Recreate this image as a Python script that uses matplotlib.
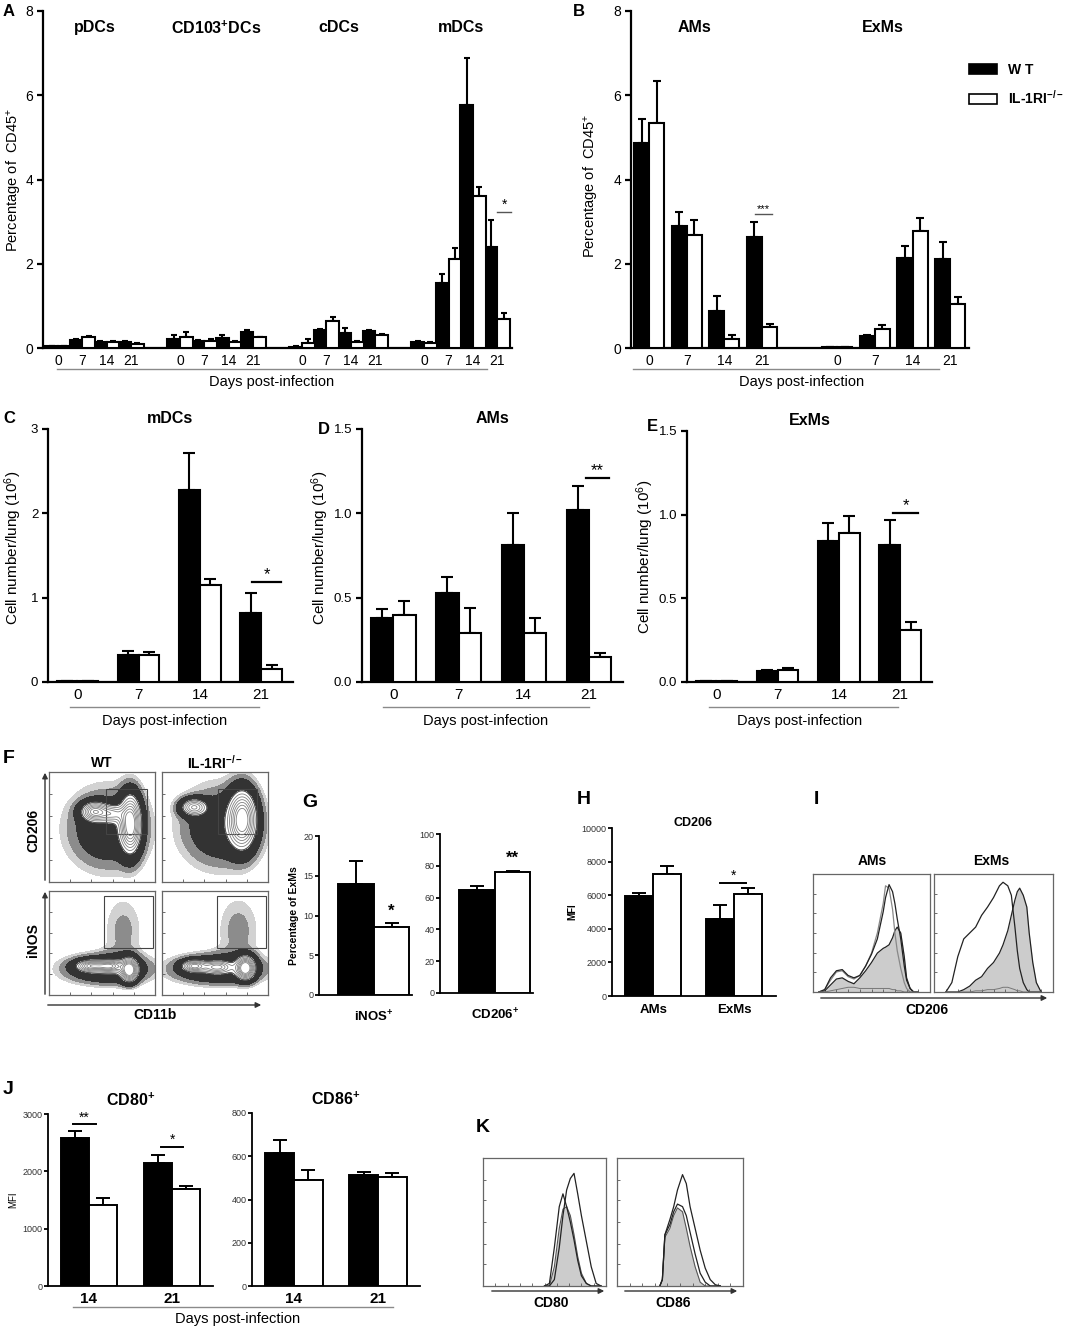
import matplotlib.pyplot as plt
import matplotlib.patches as mpatches
from matplotlib.lines import Line2D
import numpy as np

plt.rcParams['font.family'] = ['Liberation Sans', 'DejaVu Sans']
plt.rcParams['mathtext.fontset'] = 'custom'
plt.rcParams['mathtext.rm'] = 'Liberation Sans'
plt.rcParams['mathtext.bf'] = 'Liberation Sans:bold'
plt.rcParams['mathtext.it'] = 'Liberation Sans:italic'

# ---------------- data ----------------
days = ['0', '7', '14', '21']

# A: percentage of CD45+ (DC subsets), 4 groups x 4 days
a_groups = ['pDCs', 'CD103$^{\\mathbf{+}}$DCs', 'cDCs', 'mDCs']
a_wt = [0.04, 0.19, 0.15, 0.14, 0.22, 0.17, 0.24, 0.39,
        0.03, 0.42, 0.35, 0.40, 0.15, 1.55, 5.78, 2.39]
a_wt_err = [0.01, 0.03, 0.02, 0.02, 0.10, 0.02, 0.08, 0.04,
            0.01, 0.03, 0.12, 0.03, 0.02, 0.21, 1.10, 0.64]
a_ko = [0.04, 0.25, 0.15, 0.10, 0.25, 0.17, 0.15, 0.25,
        0.12, 0.65, 0.15, 0.30, 0.13, 2.12, 3.61, 0.70]
a_ko_err = [0.01, 0.04, 0.02, 0.02, 0.12, 0.05, 0.02, 0.02,
            0.10, 0.08, 0.02, 0.03, 0.02, 0.26, 0.21, 0.14]

# B: percentage of CD45+ (macrophages)
b_groups = ['AMs', 'ExMs']
b_wt = [4.87, 2.90, 0.88, 2.63, 0.02, 0.28, 2.13, 2.11]
b_wt_err = [0.57, 0.33, 0.35, 0.37, 0.01, 0.03, 0.30, 0.40]
b_ko = [5.35, 2.68, 0.22, 0.50, 0.02, 0.44, 2.78, 1.05]
b_ko_err = [1.00, 0.35, 0.08, 0.08, 0.01, 0.10, 0.31, 0.16]

# C-E: cell number / lung (10^6)
c_wt = [0.01, 0.32, 2.28, 0.82]
c_wt_err = [0.0, 0.05, 0.43, 0.24]
c_ko = [0.01, 0.32, 1.15, 0.16]
c_ko_err = [0.0, 0.04, 0.07, 0.04]

d_wt = [0.38, 0.53, 0.81, 1.02]
d_wt_err = [0.05, 0.09, 0.19, 0.14]
d_ko = [0.40, 0.29, 0.29, 0.15]
d_ko_err = [0.08, 0.15, 0.09, 0.02]

e_wt = [0.005, 0.066, 0.84, 0.82]
e_wt_err = [0.0, 0.004, 0.11, 0.15]
e_ko = [0.005, 0.074, 0.89, 0.31]
e_ko_err = [0.0, 0.012, 0.10, 0.05]

# G: percentage of ExMs
g_labels = ['iNOS$^{\\mathbf{+}}$', 'CD206$^{\\mathbf{+}}$']
g_wt = [13.9, 64.5]
g_wt_err = [3.0, 2.5]
g_ko = [8.6, 75.8]
g_ko_err = [0.4, 1.2]

# H: CD206 MFI
h_cats = ['AMs', 'ExMs']
h_wt = [5980, 4610]
h_wt_err = [140, 800]
h_ko = [7250, 6100]
h_ko_err = [500, 300]

# J: MFI of CD80+ / CD86+ at day 14 and 21
j_days = ['14', '21']
j80_wt = [2590, 2150]
j80_wt_err = [120, 130]
j80_ko = [1415, 1700]
j80_ko_err = [120, 45]
j86_wt = [615, 514]
j86_wt_err = [60, 12]
j86_ko = [489, 502]
j86_ko_err = [48, 20]

# significance marks: (x0, x1, y, text)
sig_a = [(18.0, 18.55, 3.23, '*')]
sig_b = [(2.82, 3.27, 3.19, '***')]
sig_c = [(2.85, 3.33, 1.18, '*')]
sig_d = [(2.95, 3.30, 1.21, '**')]
sig_e = [(2.89, 3.29, 1.01, '*')]
sig_h = [(0.83, 1.15, 6720, '*')]
sig_j80 = [(-0.19, 0.08, 2819, '**'), (0.87, 1.13, 2429, '*')]

# F: flow density blobs (cx, cy, sx, sy, weight) in box units
f_blobs = {
    'wt_cd206': [(0.55, 0.48, 0.25, 0.24, 0.25), (0.43, 0.64, 0.08, 0.055, 0.8),
                 (0.77, 0.53, 0.065, 0.17, 1.0), (0.60, 0.62, 0.07, 0.05, 0.45)],
    'ko_cd206': [(0.55, 0.50, 0.25, 0.24, 0.25), (0.30, 0.68, 0.08, 0.05, 0.7),
                 (0.76, 0.57, 0.085, 0.17, 1.0)],
    'wt_inos': [(0.55, 0.25, 0.26, 0.09, 0.35), (0.70, 0.62, 0.13, 0.24, 0.095),
                (0.40, 0.28, 0.09, 0.035, 0.7), (0.76, 0.24, 0.05, 0.07, 1.0),
                (0.58, 0.28, 0.07, 0.035, 0.6)],
    'ko_inos': [(0.52, 0.25, 0.28, 0.09, 0.35), (0.72, 0.62, 0.14, 0.24, 0.10),
                (0.30, 0.28, 0.07, 0.035, 0.7), (0.79, 0.26, 0.055, 0.07, 1.0),
                (0.52, 0.27, 0.08, 0.035, 0.5)],
}
f_gates = {'wt_cd206': (0.54, 0.44, 0.92, 0.85), 'ko_cd206': (0.53, 0.44, 0.90, 0.85),
           'wt_inos': (0.52, 0.45, 0.98, 0.95), 'ko_inos': (0.52, 0.45, 0.98, 0.95)}

# I / K: histogram outlines (box units)
i_am_x = [0.05, 0.10, 0.15, 0.20, 0.25, 0.30, 0.35, 0.40, 0.45, 0.50, 0.55, 0.60,
          0.62, 0.65, 0.68, 0.70, 0.72, 0.75, 0.78, 0.80, 0.83, 0.86, 0.90]
i_am_fill = [0, 0.01, 0.06, 0.11, 0.12, 0.09, 0.07, 0.12, 0.18, 0.25, 0.33, 0.37,
             0.38, 0.40, 0.46, 0.52, 0.55, 0.50, 0.30, 0.12, 0.03, 0, 0]
i_am_wt = [0, 0.02, 0.12, 0.18, 0.19, 0.14, 0.12, 0.14, 0.22, 0.32, 0.45, 0.68,
           0.80, 0.91, 0.85, 0.75, 0.62, 0.45, 0.22, 0.10, 0.03, 0, 0]
i_am_ko = [0, 0.02, 0.10, 0.17, 0.18, 0.13, 0.11, 0.14, 0.22, 0.33, 0.50, 0.75,
           0.90, 0.88, 0.70, 0.50, 0.35, 0.20, 0.08, 0.03, 0, 0, 0]
i_am_iso = [0, 0, 0.01, 0.02, 0.03, 0.04, 0.04, 0.03, 0.03, 0.03, 0.03, 0.03,
            0.03, 0.03, 0.02, 0.02, 0.01, 0.01, 0, 0, 0, 0, 0]

i_ex_x = [0.10, 0.15, 0.20, 0.25, 0.30, 0.35, 0.40, 0.45, 0.50, 0.55, 0.58, 0.62,
          0.65, 0.68, 0.70, 0.72, 0.75, 0.78, 0.80, 0.83, 0.86, 0.90]
i_ex_fill = [0, 0, 0, 0.02, 0.05, 0.10, 0.13, 0.20, 0.25, 0.33, 0.40, 0.52,
             0.65, 0.78, 0.85, 0.88, 0.82, 0.72, 0.50, 0.25, 0.08, 0]
i_ex_line = [0, 0.08, 0.30, 0.45, 0.50, 0.55, 0.65, 0.72, 0.80, 0.90, 0.93, 0.90,
             0.82, 0.55, 0.35, 0.20, 0.08, 0.02, 0, 0, 0, 0]
i_ex_iso = [0, 0, 0, 0, 0, 0.01, 0.01, 0.02, 0.02, 0.03, 0.04, 0.04,
            0.03, 0.02, 0.01, 0.01, 0, 0, 0, 0, 0, 0]

k80_x = [0.50, 0.54, 0.58, 0.62, 0.65, 0.68, 0.71, 0.74, 0.77, 0.80, 0.84, 0.88, 0.92, 0.96]
k80_fill = [0, 0, 0.15, 0.45, 0.60, 0.62, 0.55, 0.40, 0.23, 0.10, 0.02, 0, 0, 0]
k80_a = [0, 0.02, 0.30, 0.62, 0.72, 0.62, 0.50, 0.36, 0.20, 0.08, 0.02, 0, 0, 0]
k80_b = [0, 0, 0.05, 0.30, 0.55, 0.75, 0.84, 0.88, 0.72, 0.55, 0.35, 0.15, 0.02, 0]

k86_x = [0.34, 0.36, 0.38, 0.42, 0.45, 0.48, 0.52, 0.55, 0.58, 0.62, 0.66, 0.70, 0.74, 0.78, 0.82]
k86_fill = [0, 0.05, 0.38, 0.45, 0.55, 0.61, 0.58, 0.45, 0.31, 0.15, 0.03, 0, 0, 0, 0]
k86_a = [0, 0.05, 0.40, 0.48, 0.58, 0.64, 0.62, 0.55, 0.42, 0.25, 0.10, 0.03, 0, 0, 0]
k86_b = [0, 0.05, 0.40, 0.52, 0.62, 0.75, 0.87, 0.80, 0.62, 0.45, 0.28, 0.14, 0.05, 0.01, 0]

# ---------------- figure ----------------
W, H = 1077, 1331
fig = plt.figure(figsize=(W / 100, H / 100), dpi=100)


def box(x0, y0, x1, y1):
    return fig.add_axes([x0 / W, 1 - y1 / H, (x1 - x0) / W, (y1 - y0) / H])


def ftext(x, y, s, **kw):
    kw.setdefault('ha', 'center')
    kw.setdefault('va', 'center')
    fig.text(x / W, 1 - y / H, s, **kw)


def fline(x0, x1, y, color='#8a8a8a', lw=1.0):
    fig.add_artist(Line2D([x0 / W, x1 / W], [1 - y / H, 1 - y / H],
                          transform=fig.transFigure, color=color, lw=lw))


def farrow(x0, y0, x1, y1):
    fig.add_artist(mpatches.FancyArrowPatch((x0 / W, 1 - y0 / H), (x1 / W, 1 - y1 / H),
                                            transform=fig.transFigure, arrowstyle='-|>',
                                            mutation_scale=8, lw=1.0, color='#333333'))


def style(ax, small=False):
    for s in ['top', 'right']:
        ax.spines[s].set_visible(False)
    lw = 1.3 if small else 1.6
    for s in ['left', 'bottom']:
        ax.spines[s].set_linewidth(lw)
    ax.tick_params(axis='y', direction='out', length=4 if not small else 3, width=lw,
                   labelsize=6.5 if small else 10, colors='black',
                   labelcolor='#333333' if small else 'black', pad=1 if small else 3)
    ax.tick_params(axis='x', length=0, pad=4)


def bars(ax, pos, wt, wt_err, ko, ko_err, width, cap=4, lw=1.5):
    pos = np.asarray(pos, dtype=float)
    n = len(pos)
    ax.bar(pos - width / 2, wt, width, color='black', edgecolor='black', lw=lw, zorder=3)
    ax.bar(pos + width / 2, ko, width, color='white', edgecolor='black', lw=lw, zorder=3)
    ax.errorbar(pos - width / 2, wt, yerr=[np.zeros(n), wt_err], fmt='none', ecolor='black',
                elinewidth=lw, capsize=cap, capthick=lw, zorder=2)
    ax.errorbar(pos + width / 2, ko, yerr=[np.zeros(n), ko_err], fmt='none', ecolor='black',
                elinewidth=lw, capsize=cap, capthick=lw, zorder=2)


def sig(ax, marks, fs=11, lw=1.6, color='black', gap=0.0):
    for x0, x1, y, t in marks:
        ax.plot([x0, x1], [y, y], color=color, lw=lw, clip_on=False, zorder=4)
        ax.text((x0 + x1) / 2, y + gap, t, ha='center', va='bottom', fontsize=fs, zorder=4)


# ---- A ----
axA = box(43, 11, 512, 348)
a_pos = [g * 5 + i for g in range(4) for i in range(4)]
bars(axA, a_pos, a_wt, a_wt_err, a_ko, a_ko_err, 0.52, cap=2.5)
axA.set_xlim(-0.61, 18.6)
axA.set_ylim(0, 8)
axA.set_yticks([0, 2, 4, 6, 8])
axA.set_xticks(a_pos)
axA.set_xticklabels(days * 4, fontsize=10)
style(axA)
axA.set_ylabel('Percentage of  CD45$^{+}$', fontsize=10.5)
axA.yaxis.set_label_coords(-0.04, 0.5)
sig(axA, sig_a, fs=10, lw=1.0, color='#555555')
for g, name in enumerate(a_groups):
    axA.text(g * 5 + 1.5, 7.6, name, ha='center', va='center', fontsize=11.5, fontweight='bold')
fline(57, 487, 369)
ftext(272, 382, 'Days post-infection', fontsize=10.5)

# ---- B ----
axB = box(631, 11, 969, 348)
b_pos = [g * 5 + i for g in range(2) for i in range(4)]
bars(axB, b_pos, b_wt, b_wt_err, b_ko, b_ko_err, 0.4, cap=3)
axB.set_xlim(-0.48, 8.5)
axB.set_ylim(0, 8)
axB.set_yticks([0, 2, 4, 6, 8])
axB.set_xticks(b_pos)
axB.set_xticklabels(days * 2, fontsize=10)
style(axB)
axB.set_ylabel('Percentage of  CD45$^{+}$', fontsize=10.5)
axB.yaxis.set_label_coords(-0.09, 0.48)
sig(axB, sig_b, fs=8, lw=1.0, color='#555555')
for g, name in enumerate(b_groups):
    axB.text(g * 5 + 1.2, 7.6, name, ha='center', va='center', fontsize=11.5, fontweight='bold')
fline(633, 939, 369)
ftext(802, 382, 'Days post-infection', fontsize=10.5)
hdl = [mpatches.Patch(facecolor='black', edgecolor='black', lw=1.2, label='W T'),
       mpatches.Patch(facecolor='white', edgecolor='black', lw=1.2, label='IL-1RI$^{\\mathbf{-/-}}$')]
axB.legend(handles=hdl, loc='upper left', bbox_to_anchor=(966 / W, 1 - 60 / H),
           bbox_transform=fig.transFigure, frameon=False, handlelength=2.0, handleheight=0.7,
           handletextpad=0.8, labelspacing=0.9, borderpad=0.2, borderaxespad=0,
           prop={'weight': 'bold', 'size': 10})

# ---- C, D, E ----
cde = [
    (box(48, 429, 293, 682), c_wt, c_wt_err, c_ko, c_ko_err, 3, [0, 1, 2, 3], '%d', sig_c,
     'mDCs', (-0.098, 0.53)),
    (box(362, 429, 623, 682), d_wt, d_wt_err, d_ko, d_ko_err, 1.5, [0, 0.5, 1.0, 1.5], '%.1f',
     sig_d, 'AMs', (-0.119, 0.53)),
    (box(687, 431, 932, 682), e_wt, e_wt_err, e_ko, e_ko_err, 1.5, [0, 0.5, 1.0, 1.5], '%.1f',
     sig_e, 'ExMs', (-0.127, 0.5)),
]
for ax, wt, we, ko, ke, top, ticks, fmt, sg, title, lab in cde:
    bars(ax, range(4), wt, we, ko, ke, 0.34, cap=4.5)
    ax.set_xlim(-0.48, 3.52)
    ax.set_ylim(0, top)
    ax.set_yticks(ticks)
    ax.set_yticklabels([fmt % t for t in ticks])
    ax.set_xticks(range(4))
    ax.set_xticklabels(days, fontsize=11)
    style(ax)
    ax.tick_params(axis='y', labelsize=9.5)
    ax.set_ylabel('Cell number/lung (10$^{6}$)', fontsize=11)
    ax.yaxis.set_label_coords(*lab)
    ax.set_title(title, fontsize=11.5, fontweight='bold', pad=4)
    sig(ax, sg, fs=12)
fline(70, 259, 707)
ftext(165, 721, 'Days post-infection', fontsize=10.5)
fline(383, 589, 707)
ftext(486, 721, 'Days post-infection', fontsize=10.5)
fline(709, 898, 707)
ftext(800, 721, 'Days post-infection', fontsize=10.5)

# ---- F: flow contour plots ----
gx, gy = np.meshgrid(np.linspace(0, 1, 160), np.linspace(0, 1, 160))
f_boxes = {'wt_cd206': (49, 772, 155, 882), 'ko_cd206': (162, 772, 268, 882),
           'wt_inos': (49, 891, 155, 995), 'ko_inos': (162, 891, 268, 995)}
for key, rect in f_boxes.items():
    ax = box(*rect)
    dens = np.zeros_like(gx)
    for cx, cy, sx, sy, w in f_blobs[key]:
        dens += w * np.exp(-((gx - cx) ** 2 / (2 * sx ** 2) + (gy - cy) ** 2 / (2 * sy ** 2)))
    ax.contourf(gx, gy, dens, levels=[0.05, 0.08, 0.13, 0.38, 10],
                colors=['#d2d2d2', '#8c8c8c', '#333333', 'white'])
    ax.contour(gx, gy, dens, levels=[0.38, 0.48, 0.58, 0.68, 0.78, 0.88, 0.98],
               colors='#808080', linewidths=0.6)
    ax.contour(gx, gy, dens, levels=[0.38], colors='#555555', linewidths=0.8)
    gx0, gy0, gx1, gy1 = f_gates[key]
    ax.add_patch(mpatches.Rectangle((gx0, gy0), gx1 - gx0, gy1 - gy0, fill=False,
                                    edgecolor='#444444', lw=0.8))
    ax.set_xlim(0, 1)
    ax.set_ylim(0, 1)
    ax.set_xticks([0.2, 0.4, 0.6, 0.8])
    ax.set_yticks([0.2, 0.4, 0.6, 0.8])
    ax.set_xticklabels([])
    ax.set_yticklabels([])
    ax.tick_params(direction='in', length=2, width=0.6, colors='#555555')
    for s in ax.spines.values():
        s.set_color('#666666')
        s.set_linewidth(0.9)
ftext(3, 758, 'F', fontsize=14, fontweight='bold', ha='left')
ftext(102, 763, 'WT', fontsize=10, fontweight='bold')
ftext(215, 763, 'IL-1RI$^{\\mathbf{-/-}}$', fontsize=10, fontweight='bold')
ftext(33, 830, 'CD206', fontsize=10, fontweight='bold', rotation=90)
ftext(33, 940, 'iNOS', fontsize=10, fontweight='bold', rotation=90)
ftext(155, 1015, 'CD11b', fontsize=10, fontweight='bold')
farrow(45, 883, 45, 770)
farrow(45, 997, 45, 889)
farrow(45, 1005, 264, 1005)

# ---- G ----
g_rects = [(319, 836, 412, 995), (440, 834, 533, 993)]
g_tops = [20, 100]
g_ticks = [[0, 5, 10, 15, 20], [0, 20, 40, 60, 80, 100]]
g_star = ['*', '**']
for i in range(2):
    ax = box(*g_rects[i])
    bars(ax, [0], [g_wt[i]], [g_wt_err[i]], [g_ko[i]], [g_ko_err[i]], 0.4, cap=5, lw=1.4)
    ax.set_xlim(-0.62, 0.43)
    ax.set_ylim(0, g_tops[i])
    ax.set_yticks(g_ticks[i])
    ax.set_xticks([0])
    ax.set_xticklabels([g_labels[i]], fontsize=9.5, fontweight='bold')
    style(ax, small=True)
    ax.tick_params(axis='x', pad=10)
    ax.text(0.2, g_ko[i] + g_ko_err[i] + g_tops[i] * 0.03, g_star[i], ha='center',
            va='bottom', fontsize=12, fontweight='bold')
    if i == 0:
        ax.set_ylabel('Percentage of ExMs', fontsize=7.5, fontweight='bold', labelpad=3)
ftext(302, 802, 'G', fontsize=14, fontweight='bold', ha='left')

# ---- H ----
axH = box(612, 828, 776, 996)
bars(axH, [0, 1], h_wt, h_wt_err, h_ko, h_ko_err, 0.345, cap=5, lw=1.4)
axH.set_xlim(-0.51, 1.52)
axH.set_ylim(0, 10000)
axH.set_yticks([0, 2000, 4000, 6000, 8000, 10000])
axH.set_xticks([0, 1])
axH.set_xticklabels(h_cats, fontsize=9.5, fontweight='bold')
style(axH, small=True)
axH.tick_params(axis='x', pad=6)
axH.set_ylabel('MFI', fontsize=7, fontweight='bold', labelpad=3)
sig(axH, sig_h, fs=10, lw=1.4)
ftext(693, 823, 'CD206', fontsize=9, fontweight='bold')
ftext(577, 800, 'H', fontsize=14, fontweight='bold', ha='left')

# ---- I: histograms ----
axI1 = box(813, 874, 930, 992)
axI1.fill_between(i_am_x, i_am_fill, color='#cccccc', lw=0)
axI1.plot(i_am_x, i_am_fill, color='#222222', lw=0.9)
axI1.plot(i_am_x, i_am_ko, color='#888888', lw=0.9)
axI1.plot(i_am_x, i_am_wt, color='#222222', lw=0.9)
axI1.plot(i_am_x, i_am_iso, color='#777777', lw=0.7)
axI2 = box(934, 874, 1053, 992)
axI2.fill_between(i_ex_x, i_ex_fill, color='#cccccc', lw=0)
axI2.plot(i_ex_x, i_ex_fill, color='#222222', lw=0.9)
axI2.plot(i_ex_x, i_ex_line, color='#222222', lw=0.9)
axI2.plot(i_ex_x, i_ex_iso, color='#777777', lw=0.7)
ftext(814, 800, 'I', fontsize=14, fontweight='bold', ha='left')
ftext(872, 861, 'AMs', fontsize=10, fontweight='bold')
ftext(991, 861, 'ExMs', fontsize=10, fontweight='bold')
ftext(927, 1010, 'CD206', fontsize=10, fontweight='bold')
farrow(818, 998, 1050, 998)

# ---- J ----
axJ1 = box(48, 1114, 213, 1286)
bars(axJ1, [0, 1], j80_wt, j80_wt_err, j80_ko, j80_ko_err, 0.34, cap=5, lw=1.4)
axJ1.set_xlim(-0.49, 1.49)
axJ1.set_ylim(0, 3000)
axJ1.set_yticks([0, 1000, 2000, 3000])
axJ1.set_ylabel('MFI', fontsize=7, labelpad=3)
sig(axJ1, sig_j80, fs=10, lw=1.4)
axJ1.set_title('CD80$^{\\mathbf{+}}$', fontsize=11.5, fontweight='bold', pad=6)
axJ2 = box(252, 1113, 420, 1286)
bars(axJ2, [0, 1], j86_wt, j86_wt_err, j86_ko, j86_ko_err, 0.34, cap=5, lw=1.4)
axJ2.set_xlim(-0.5, 1.5)
axJ2.set_ylim(0, 800)
axJ2.set_yticks([0, 200, 400, 600, 800])
axJ2.set_title('CD86$^{\\mathbf{+}}$', fontsize=11.5, fontweight='bold', pad=6)
for ax in (axJ1, axJ2):
    ax.set_xticks([0, 1])
    ax.set_xticklabels(j_days, fontsize=11, fontweight='bold')
    style(ax, small=True)
    ax.tick_params(axis='x', pad=4)
fline(73, 393, 1307)
ftext(238, 1319, 'Days post-infection', fontsize=10.5)
ftext(3, 1090, 'J', fontsize=14, fontweight='bold', ha='left')

# ---- K ----
axK1 = box(483, 1158, 606, 1286)
axK1.fill_between(k80_x, k80_fill, color='#cccccc', lw=0)
axK1.plot(k80_x, k80_fill, color='#555555', lw=0.8)
axK1.plot(k80_x, k80_a, color='#222222', lw=0.9)
axK1.plot(k80_x, k80_b, color='#222222', lw=0.9)
axK2 = box(617, 1158, 743, 1286)
axK2.fill_between(k86_x, k86_fill, color='#cccccc', lw=0)
axK2.plot(k86_x, k86_fill, color='#555555', lw=0.8)
axK2.plot(k86_x, k86_a, color='#222222', lw=0.9)
axK2.plot(k86_x, k86_b, color='#222222', lw=0.9)
ftext(476, 1128, 'K', fontsize=14, fontweight='bold', ha='left')
ftext(551, 1303, 'CD80', fontsize=10, fontweight='bold')
ftext(673, 1303, 'CD86', fontsize=10, fontweight='bold')
farrow(489, 1291, 607, 1291)
farrow(622, 1291, 740, 1291)

for ax in (axI1, axI2, axK1, axK2):
    ax.set_xlim(0, 1)
    ax.set_ylim(0, 1)
    ax.set_xticks([0.1, 0.2, 0.3, 0.4, 0.5, 0.6, 0.7, 0.8, 0.9])
    ax.set_yticks([0.17, 0.33, 0.5, 0.67, 0.83])
    ax.set_xticklabels([])
    ax.set_yticklabels([])
    ax.tick_params(direction='in', length=2, width=0.6, colors='#555555')
    for s in ax.spines.values():
        s.set_color('#666666')
        s.set_linewidth(0.9)

# panel letters for top rows
ftext(3, 12, 'A', fontsize=12, fontweight='bold', ha='left')
ftext(573, 12, 'B', fontsize=12, fontweight='bold', ha='left')
ftext(3, 418, 'C', fontsize=12, fontweight='bold', ha='left')
ftext(318, 430, 'D', fontsize=12, fontweight='bold', ha='left')
ftext(647, 427, 'E', fontsize=12, fontweight='bold', ha='left')

fig.savefig('out.png', dpi=100)
